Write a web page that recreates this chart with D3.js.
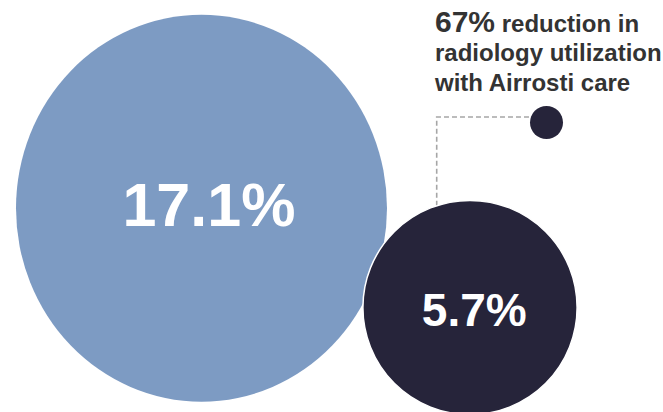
<!DOCTYPE html>
<html>
<head>
<meta charset="utf-8">
<script src="https://cdn.jsdelivr.net/npm/d3@7"></script>
<style>
  html, body { margin: 0; padding: 0; background: #fff; }
  svg { display: block; font-family: "Liberation Sans", Arial, sans-serif; }
</style>
</head>
<body>
<svg id="chart"></svg>
<script>
// Radiology utilization rates
const labels = ['Without Airrosti', 'With Airrosti'];
const values = [17.1, 5.7];
const valueLabels = ['17.1%', '5.7%'];
const calloutHead = '67%';
const calloutLines = [' reduction in', 'radiology utilization', 'with Airrosti care'];

const width = 663;
const height = 412;

// layout (bubble centres, not data)
const centers = [[201.5, 208.2], [470, 307.5]];
const yStretch = [1.043, 1.0]; // the big bubble is drawn slightly tall
const colors = ['#7d9bc3', '#26243a'];
const fontSizes = [61, 46];

// bubble area is proportional to the value
const r = d3.scaleSqrt()
    .domain([0, d3.max(values)])
    .range([0, 185.5]);

const svg = d3.select('#chart')
    .attr('width', width)
    .attr('height', height);

const bubbles = svg.selectAll('g.bubble')
    .data(values)
    .enter()
    .append('g')
    .attr('class', 'bubble');

// dashed leader line from the small bubble to the callout dot
const small = 1;
const lx = 436.7;
const dx = lx - centers[small][0];
const topY = centers[small][1] - Math.sqrt(r(values[small]) ** 2 - dx * dx);
const dot = [546.5, 122.5];
svg.insert('path', 'g.bubble')
    .attr('d', d3.line()([[lx, topY], [lx, 117], [dot[0] - 14, 117]]))
    .attr('fill', 'none')
    .attr('stroke', '#a6a6a6')
    .attr('stroke-width', 1.6)
    .attr('stroke-dasharray', '5,3');

bubbles.append('ellipse')
    .attr('cx', (d, i) => centers[i][0])
    .attr('cy', (d, i) => centers[i][1])
    .attr('rx', d => r(d))
    .attr('ry', (d, i) => r(d) * yStretch[i])
    .attr('fill', (d, i) => colors[i])
    .attr('stroke', (d, i) => i === small ? '#fff' : 'none')
    .attr('stroke-width', 1.5);

bubbles.append('text')
    .attr('x', (d, i) => centers[i][0] + r(d) * 0.04)
    .attr('y', (d, i) => centers[i][1] + 18)
    .attr('text-anchor', 'middle')
    .attr('fill', '#fff')
    .attr('font-weight', 'bold')
    .attr('font-size', (d, i) => fontSizes[i] + 'px')
    .text((d, i) => valueLabels[i]);

// callout dot
svg.append('circle')
    .attr('cx', dot[0])
    .attr('cy', dot[1])
    .attr('r', 16.5)
    .attr('fill', colors[small]);

// callout text
const callout = svg.append('text')
    .attr('x', 435)
    .attr('y', 32)
    .attr('fill', '#333')
    .attr('font-weight', 'bold')
    .attr('font-size', '24px');

callout.append('tspan')
    .attr('font-size', '30px')
    .text(calloutHead);

calloutLines.forEach((line, i) => {
    const t = callout.append('tspan').text(line);
    if (i > 0) t.attr('x', 435).attr('dy', 29.3);
});
</script>
</body>
</html>
